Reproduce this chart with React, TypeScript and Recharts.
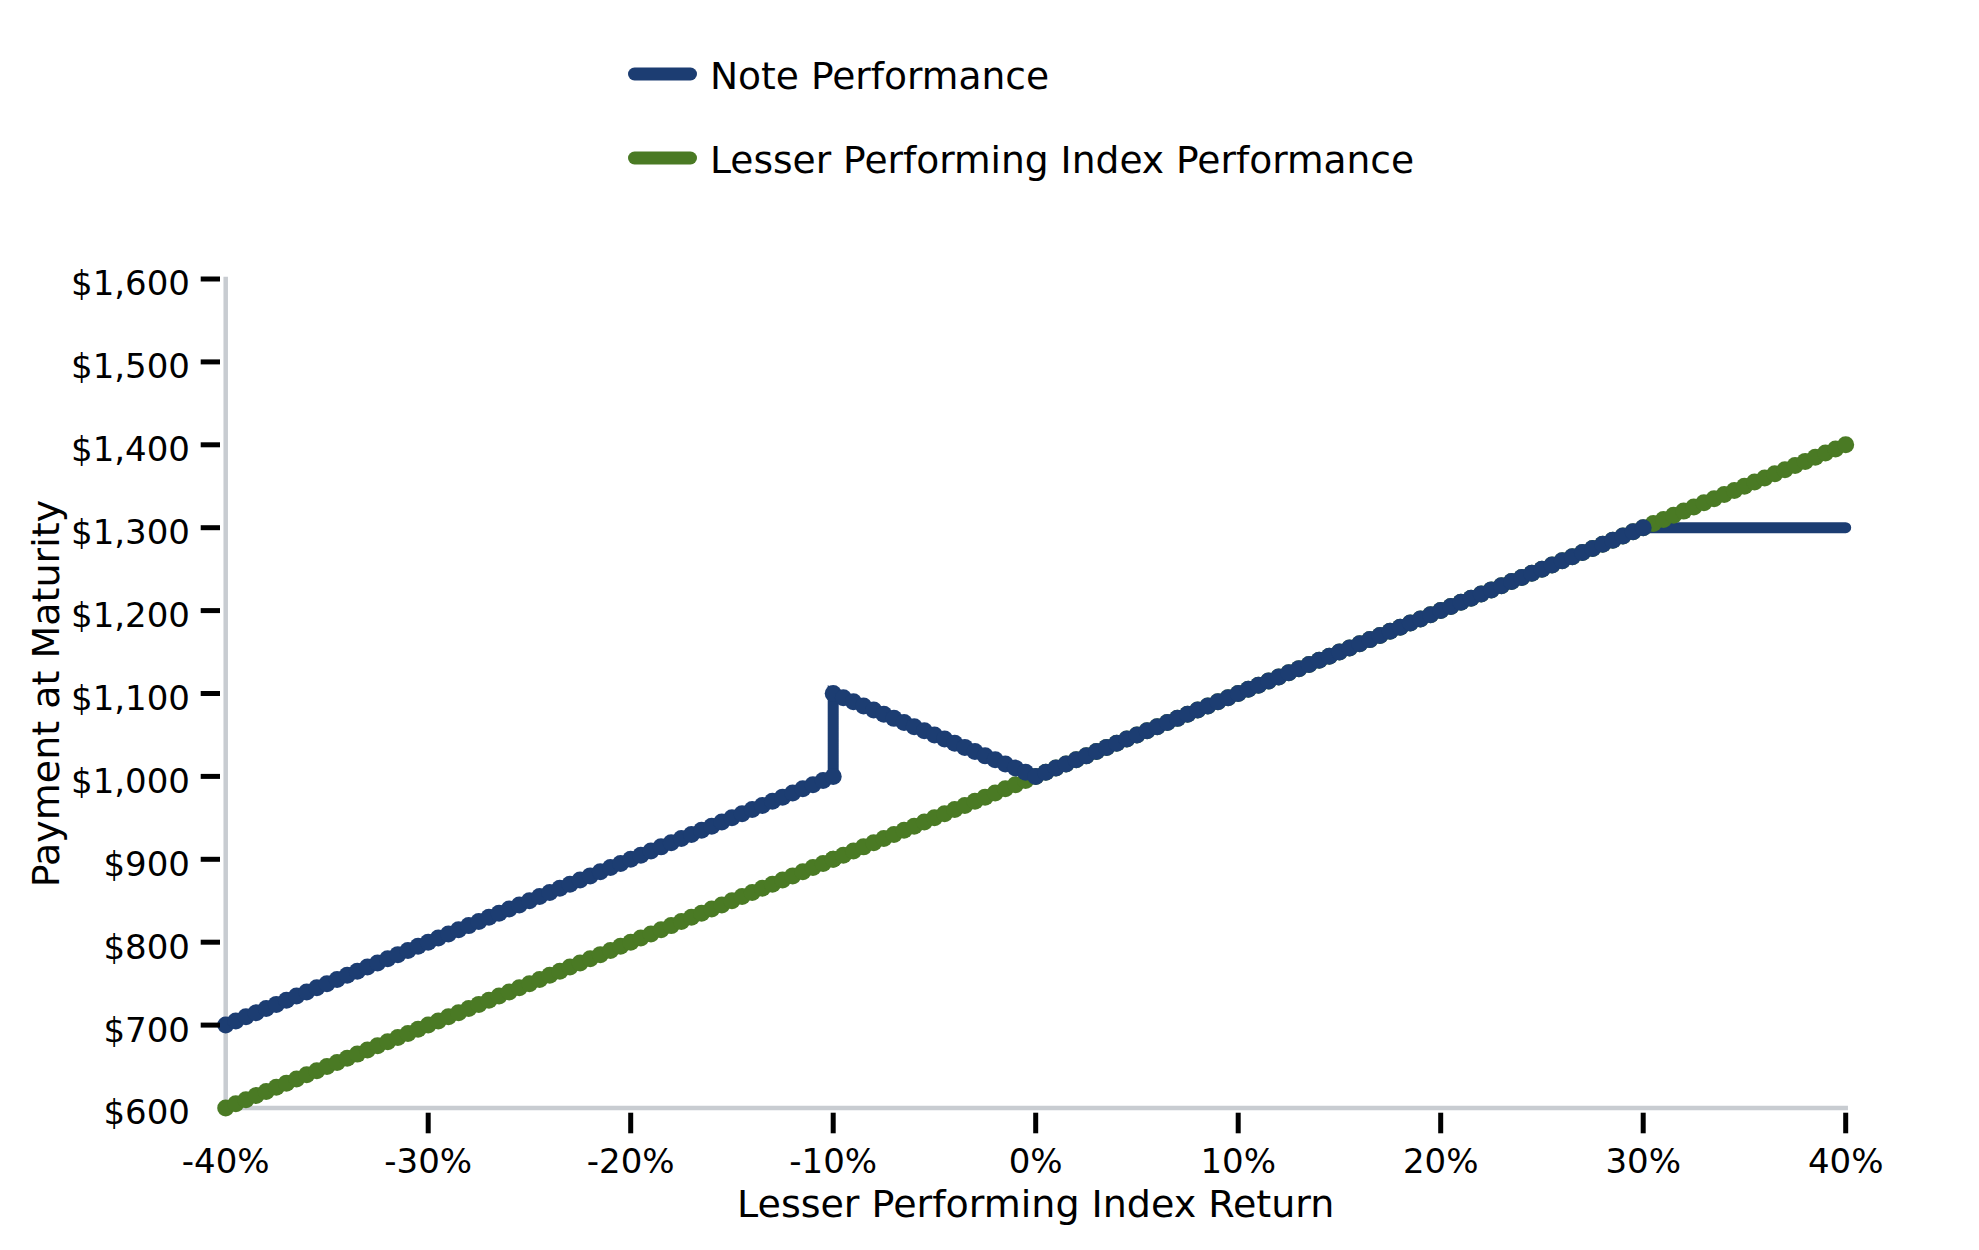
import { Label, Legend, Line, LineChart, XAxis, YAxis } from 'recharts'

const FONT = '"DejaVu Sans", sans-serif'
const NOTE_COLOR = '#1c3d72'
const INDEX_COLOR = '#4a7a24'
const AXIS_GRAY = '#c8ccd1'

// lesser performing index return (%), -10 appears twice for the jump
const returns = [
  -40, -39.5, -39, -38.5, -38, -37.5, -37, -36.5, -36, -35.5,
  -35, -34.5, -34, -33.5, -33, -32.5, -32, -31.5, -31, -30.5,
  -30, -29.5, -29, -28.5, -28, -27.5, -27, -26.5, -26, -25.5,
  -25, -24.5, -24, -23.5, -23, -22.5, -22, -21.5, -21, -20.5,
  -20, -19.5, -19, -18.5, -18, -17.5, -17, -16.5, -16, -15.5,
  -15, -14.5, -14, -13.5, -13, -12.5, -12, -11.5, -11, -10.5,
  -10, -10, -9.5, -9, -8.5, -8, -7.5, -7, -6.5, -6, -5.5,
  -5, -4.5, -4, -3.5, -3, -2.5, -2, -1.5, -1, -0.5,
  0, 0.5, 1, 1.5, 2, 2.5, 3, 3.5, 4, 4.5,
  5, 5.5, 6, 6.5, 7, 7.5, 8, 8.5, 9, 9.5,
  10, 10.5, 11, 11.5, 12, 12.5, 13, 13.5, 14, 14.5,
  15, 15.5, 16, 16.5, 17, 17.5, 18, 18.5, 19, 19.5,
  20, 20.5, 21, 21.5, 22, 22.5, 23, 23.5, 24, 24.5,
  25, 25.5, 26, 26.5, 27, 27.5, 28, 28.5, 29, 29.5,
  30, 30.5, 31, 31.5, 32, 32.5, 33, 33.5, 34, 34.5,
  35, 35.5, 36, 36.5, 37, 37.5, 38, 38.5, 39, 39.5,
  40,
]

const indexPayment = [
  600, 605, 610, 615, 620, 625, 630, 635, 640, 645,
  650, 655, 660, 665, 670, 675, 680, 685, 690, 695,
  700, 705, 710, 715, 720, 725, 730, 735, 740, 745,
  750, 755, 760, 765, 770, 775, 780, 785, 790, 795,
  800, 805, 810, 815, 820, 825, 830, 835, 840, 845,
  850, 855, 860, 865, 870, 875, 880, 885, 890, 895,
  900, 900, 905, 910, 915, 920, 925, 930, 935, 940, 945,
  950, 955, 960, 965, 970, 975, 980, 985, 990, 995,
  1000, 1005, 1010, 1015, 1020, 1025, 1030, 1035, 1040, 1045,
  1050, 1055, 1060, 1065, 1070, 1075, 1080, 1085, 1090, 1095,
  1100, 1105, 1110, 1115, 1120, 1125, 1130, 1135, 1140, 1145,
  1150, 1155, 1160, 1165, 1170, 1175, 1180, 1185, 1190, 1195,
  1200, 1205, 1210, 1215, 1220, 1225, 1230, 1235, 1240, 1245,
  1250, 1255, 1260, 1265, 1270, 1275, 1280, 1285, 1290, 1295,
  1300, 1305, 1310, 1315, 1320, 1325, 1330, 1335, 1340, 1345,
  1350, 1355, 1360, 1365, 1370, 1375, 1380, 1385, 1390, 1395,
  1400,
]

const notePayment = [
  700, 705, 710, 715, 720, 725, 730, 735, 740, 745,
  750, 755, 760, 765, 770, 775, 780, 785, 790, 795,
  800, 805, 810, 815, 820, 825, 830, 835, 840, 845,
  850, 855, 860, 865, 870, 875, 880, 885, 890, 895,
  900, 905, 910, 915, 920, 925, 930, 935, 940, 945,
  950, 955, 960, 965, 970, 975, 980, 985, 990, 995,
  1000, 1100, 1095, 1090, 1085, 1080, 1075, 1070, 1065, 1060, 1055,
  1050, 1045, 1040, 1035, 1030, 1025, 1020, 1015, 1010, 1005,
  1000, 1005, 1010, 1015, 1020, 1025, 1030, 1035, 1040, 1045,
  1050, 1055, 1060, 1065, 1070, 1075, 1080, 1085, 1090, 1095,
  1100, 1105, 1110, 1115, 1120, 1125, 1130, 1135, 1140, 1145,
  1150, 1155, 1160, 1165, 1170, 1175, 1180, 1185, 1190, 1195,
  1200, 1205, 1210, 1215, 1220, 1225, 1230, 1235, 1240, 1245,
  1250, 1255, 1260, 1265, 1270, 1275, 1280, 1285, 1290, 1295,
  1300, 1300, 1300, 1300, 1300, 1300, 1300, 1300, 1300, 1300,
  1300, 1300, 1300, 1300, 1300, 1300, 1300, 1300, 1300, 1300,
  1300,
]

const xTicks = [-40, -30, -20, -10, 0, 10, 20, 30, 40]
const yTicks = [600, 700, 800, 900, 1000, 1100, 1200, 1300, 1400, 1500, 1600]

const legendItems = [
  { label: 'Note Performance', color: NOTE_COLOR },
  { label: 'Lesser Performing Index Performance', color: INDEX_COLOR },
]

const rows = returns.map((ret, i) => ({
  ret,
  index: indexPayment[i],
  note: notePayment[i],
}))

function YTick({ x, y, payload, index }: any) {
  return (
    <g>
      {index > 0 && (
        <line x1={x - 25} x2={x - 5.7} y1={y} y2={y} stroke="#000" strokeWidth={5} />
      )}
      <text x={x - 35.7} y={y + 16.4} textAnchor="end" fontSize={34} fontFamily={FONT} fill="#000">
        {`$${payload.value.toLocaleString('en-US')}`}
      </text>
    </g>
  )
}

function XTick({ x, y, payload, index }: any) {
  return (
    <g>
      {index > 0 && (
        <line x1={x} x2={x} y1={y + 4.7} y2={y + 25.3} stroke="#000" strokeWidth={5} />
      )}
      <text x={x} y={y + 65} textAnchor="middle" fontSize={34} fontFamily={FONT} fill="#000">
        {`${payload.value}%`}
      </text>
    </g>
  )
}

function LegendBox() {
  return (
    <div style={{ width: 1979, height: 200 }}>
      <svg width={1979} height={200}>
        {legendItems.map((item, i) => (
          <g key={item.label}>
            <line
              x1={634.5}
              x2={690.5}
              y1={74 + i * 84}
              y2={74 + i * 84}
              stroke={item.color}
              strokeWidth={13}
              strokeLinecap="round"
            />
            <text x={710} y={89.4 + i * 84} fontSize={37.6} fontFamily={FONT} fill="#000">
              {item.label}
            </text>
          </g>
        ))}
      </svg>
    </div>
  )
}

function NoteDot({ cx, cy, payload, index }: any) {
  // the capped stretch is drawn as a plain line
  if (payload.ret > 30) return <g key={`nd-${index}`} />
  return <circle key={`nd-${index}`} cx={cx} cy={cy} r={8.5} fill={NOTE_COLOR} />
}

export default function App() {
  return (
    <div style={{ width: 1979, height: 1250, background: '#fff' }}>
      <style>{'body{margin:0}'}</style>
      <LineChart
        width={1979}
        height={1250}
        data={rows}
        margin={{ top: 279, right: 133.3, bottom: 0, left: 0 }}
      >
        <Legend
          layout="horizontal"
          verticalAlign="middle"
          align="center"
          wrapperStyle={{ top: 0, left: 0 }}
          content={() => <LegendBox />}
        />
        <XAxis
          dataKey="ret"
          type="number"
          domain={[-40, 40]}
          ticks={xTicks}
          height={142}
          tickSize={0}
          tickMargin={0}
          tickLine={false}
          axisLine={{ stroke: AXIS_GRAY, strokeWidth: 4.5, strokeLinecap: 'square' }}
          tick={<XTick />}
          interval={0}
        >
          <Label
            content={({ viewBox }: any) => (
              <text
                x={viewBox.x + viewBox.width / 2}
                y={viewBox.y + 108.7}
                textAnchor="middle"
                fontSize={38}
                fontFamily={FONT}
                fill="#000"
              >
                Lesser Performing Index Return
              </text>
            )}
          />
        </XAxis>
        <YAxis
          type="number"
          domain={[600, 1600]}
          ticks={yTicks}
          width={225.7}
          tickSize={0}
          tickMargin={0}
          tickLine={false}
          axisLine={{ stroke: AXIS_GRAY, strokeWidth: 4.5, strokeLinecap: 'square' }}
          tick={<YTick />}
          interval={0}
        >
          <Label
            content={({ viewBox }: any) => {
              const cx = viewBox.x + 59.3
              const cy = viewBox.y + viewBox.height / 2
              return (
                <text
                  x={cx}
                  y={cy}
                  transform={`rotate(-90 ${cx} ${cy})`}
                  textAnchor="middle"
                  fontSize={38}
                  fontFamily={FONT}
                  fill="#000"
                >
                  Payment at Maturity
                </text>
              )
            }}
          />
        </YAxis>
        <Line
          type="linear"
          dataKey="index"
          stroke={INDEX_COLOR}
          strokeWidth={11}
          strokeLinecap="round"
          dot={{ r: 8.5, fill: INDEX_COLOR, stroke: 'none' }}
          activeDot={false}
          isAnimationActive={false}
        />
        <Line
          type="linear"
          dataKey="note"
          stroke={NOTE_COLOR}
          strokeWidth={11}
          strokeLinecap="round"
          dot={<NoteDot />}
          activeDot={false}
          isAnimationActive={false}
        />
      </LineChart>
    </div>
  )
}
